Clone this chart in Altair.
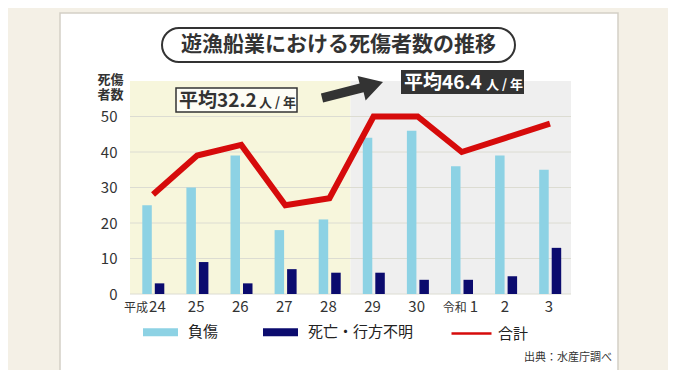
import altair as alt
import pandas as pd

# ---- data ----
years = ["平成24", "25", "26", "27", "28", "29", "30", "令和1", "2", "3"]
injured = [25, 30, 39, 18, 21, 44, 46, 36, 39, 35]
dead = [3, 9, 3, 7, 6, 6, 4, 4, 5, 13]
total = [28, 39, 42, 25, 27, 50, 50, 40, 44, 48]
era_prefix = ["平成", "", "", "", "", "", "", "令和", "", ""]
year_num = ["24", "25", "26", "27", "28", "29", "30", "1", "2", "3"]
y_ticks = [0, 10, 20, 30, 40, 50]
series_names = ["負傷", "死亡・行方不明"]
line_name = "合計"
averages = ["32.2", "46.4"]
title_text = "遊漁船業における死傷者数の推移"
source_text = "出典：水産庁調べ"

# ---- style ----
W, H = 441, 213
FONT = "Noto Sans CJK JP"
TXT = "#333333"
LIGHT = "#8dd2e4"
NAVY = "#0b0b6e"
RED = "#d60b0b"

df = pd.DataFrame({"year": years, "era": era_prefix, "num": year_num,
                   "total": total, "line": line_name})
bars_df = pd.DataFrame({"year": years * 2,
                        "series": [series_names[0]] * len(years) + [series_names[1]] * len(years),
                        "value": injured + dead})
grid_df = pd.DataFrame({"v": y_ticks})
one = pd.DataFrame({"k": [0]})

x_scale = alt.Scale(domain=years, paddingInner=0, paddingOuter=0)
y_scale = alt.Scale(domain=[0, 60], nice=False)
y_axis = alt.Axis(values=y_ticks, grid=False, domain=False, ticks=False, zindex=1,
                  labelFontSize=15, labelPadding=13, labelColor=TXT, labelFont=FONT,
                  title=["死傷", "者数"], titleAngle=0, titleX=-20, titleY=-8,
                  titleAlign="center", titleBaseline="top", titleFontSize=13,
                  titleFontWeight="bold", titleColor=TXT, titleFont=FONT, titleLineHeight=15)


def X():
    return alt.X("year:N", scale=x_scale, axis=None)


# card and backgrounds
card = alt.Chart(one).mark_rect(fill="white", stroke="#d3cfc6", strokeWidth=1.5).encode(
    x=alt.value(-70), x2=alt.value(488), y=alt.value(-68), y2=alt.value(291))
yellow = alt.Chart(one).mark_rect(fill="#f7f6dc").encode(
    x=alt.value(0), x2=alt.value(W * 5 / 10), y=alt.value(0), y2=alt.value(H))
grey = alt.Chart(one).mark_rect(fill="#efefef").encode(
    x=alt.value(W * 5 / 10), x2=alt.value(W), y=alt.value(0), y2=alt.value(H))

grid = alt.Chart(grid_df).mark_rule(color="#dcdcd2", strokeWidth=1).encode(
    y=alt.Y("v:Q", scale=y_scale, axis=y_axis), x=alt.value(0), x2=alt.value(W))

color = alt.Color("series:N", scale=alt.Scale(domain=series_names, range=[LIGHT, NAVY]),
                  legend=alt.Legend(orient="none", legendX=13, legendY=233.5,
                                    direction="horizontal", title=None,
                                    symbolType="M-1,-0.23H1V0.23H-1Z", symbolSize=1225,
                                    symbolStrokeWidth=0, labelFontSize=15, labelOffset=10,
                                    columnPadding=44, labelFont=FONT, labelColor="#222222",
                                    padding=0))

bar1 = alt.Chart(bars_df).transform_filter(alt.datum.series == series_names[0]).mark_bar(
    size=9.5, xOffset=-5).encode(x=X(), y=alt.Y("value:Q", scale=y_scale, axis=y_axis), color=color)
bar2 = alt.Chart(bars_df).transform_filter(alt.datum.series == series_names[1]).mark_bar(
    size=9.5, xOffset=7.5).encode(x=X(), y=alt.Y("value:Q", scale=y_scale, axis=y_axis), color=color)

line = alt.Chart(df).mark_line(strokeWidth=6, xOffset=1).encode(
    x=X(), y=alt.Y("total:Q", scale=y_scale, axis=y_axis),
    stroke=alt.Stroke("line:N", scale=alt.Scale(domain=[line_name], range=[RED]),
                      legend=alt.Legend(orient="none", legendX=320, legendY=231,
                                        direction="horizontal", title=None,
                                        symbolType="stroke", symbolSize=1600,
                                        symbolStrokeWidth=2.5, labelFontSize=15, labelOffset=5,
                                        labelFont=FONT, labelColor="#222222", padding=0)))

# x labels
plain_lbl = alt.Chart(df).transform_filter(alt.datum.era == "").mark_text(
    fontSize=15, font=FONT, color=TXT, baseline="middle").encode(
    x=X(), y=alt.value(H + 13), text="num:N")
lbl_layers = []
for cat, dx_num, dx_era in [(years[0], -3, -4), (years[7], 9, 6)]:
    lbl_layers.append(alt.Chart(df).transform_filter(alt.datum.year == cat).mark_text(
        fontSize=15, font=FONT, color=TXT, baseline="middle", align="left", dx=dx_num).encode(
        x=X(), y=alt.value(H + 13), text="num:N"))
    lbl_layers.append(alt.Chart(df).transform_filter(alt.datum.year == cat).mark_text(
        fontSize=12, font=FONT, color=TXT, baseline="middle", align="right", dx=dx_era).encode(
        x=X(), y=alt.value(H + 14), text="era:N"))

# title pill
pill = alt.Chart(one).mark_rect(fill="white", stroke=TXT, strokeWidth=2, cornerRadius=17).encode(
    x=alt.value(32), x2=alt.value(385), y=alt.value(-53), y2=alt.value(-19))
title = alt.Chart(one).mark_text(text=title_text, fontSize=21, fontWeight="bold", font=FONT,
                                 color=TXT, align="center", baseline="middle").encode(
    x=alt.value(208.5), y=alt.value(-36))

# annotations
box1 = alt.Chart(one).mark_rect(fill="#fdfdf6", stroke=TXT, strokeWidth=1.5).encode(
    x=alt.value(46), x2=alt.value(167), y=alt.value(7), y2=alt.value(31))
box1_t = alt.Chart(one).mark_text(text="平均" + averages[0], fontSize=19, fontWeight="bold",
                                  font=FONT, color=TXT, align="left", baseline="alphabetic").encode(
    x=alt.value(49), y=alt.value(26))
box1_u = alt.Chart(one).mark_text(text="人 / 年", fontSize=13, fontWeight="bold",
                                  font=FONT, color=TXT, align="left", baseline="alphabetic").encode(
    x=alt.value(129), y=alt.value(26))
box2 = alt.Chart(one).mark_rect(fill="#333333").encode(
    x=alt.value(271), x2=alt.value(394), y=alt.value(-11), y2=alt.value(13))
box2_t = alt.Chart(one).mark_text(text="平均" + averages[1], fontSize=19, fontWeight="bold",
                                  font=FONT, color="white", align="left", baseline="alphabetic").encode(
    x=alt.value(274), y=alt.value(8))
box2_u = alt.Chart(one).mark_text(text="人 / 年", fontSize=13, fontWeight="bold",
                                  font=FONT, color="white", align="left", baseline="alphabetic").encode(
    x=alt.value(356), y=alt.value(8))

arrow_path = "M190.9,12.6 L229.6,2.4 L227.6,-5.0 L253,1 L235.6,19.4 L233.6,11.2 L193.1,21.4 Z"
arrow = alt.Chart(one).mark_point(shape=arrow_path, size=4, filled=True, fill="#333333",
                                  strokeWidth=0, opacity=1).encode(
    x=alt.value(0), y=alt.value(0))

source = alt.Chart(one).mark_text(text=source_text, fontSize=11, font=FONT, color=TXT,
                                  align="right", baseline="middle").encode(
    x=alt.value(482), y=alt.value(277))

chart = alt.layer(
    card, yellow, grey, grid, bar1, bar2, line, plain_lbl, *lbl_layers,
    pill, title, box1, box1_t, box1_u, box2, box2_t, box2_u, arrow, source
).properties(
    width=W, height=H,
    autosize=alt.AutoSizeParams(type="none"),
    padding={"left": 122, "top": 73, "right": 97, "bottom": 76},
    background="#f4f0e6",
).configure_view(strokeWidth=0)

chart.save("out.html", embed_options={"renderer": "svg", "actions": False})
